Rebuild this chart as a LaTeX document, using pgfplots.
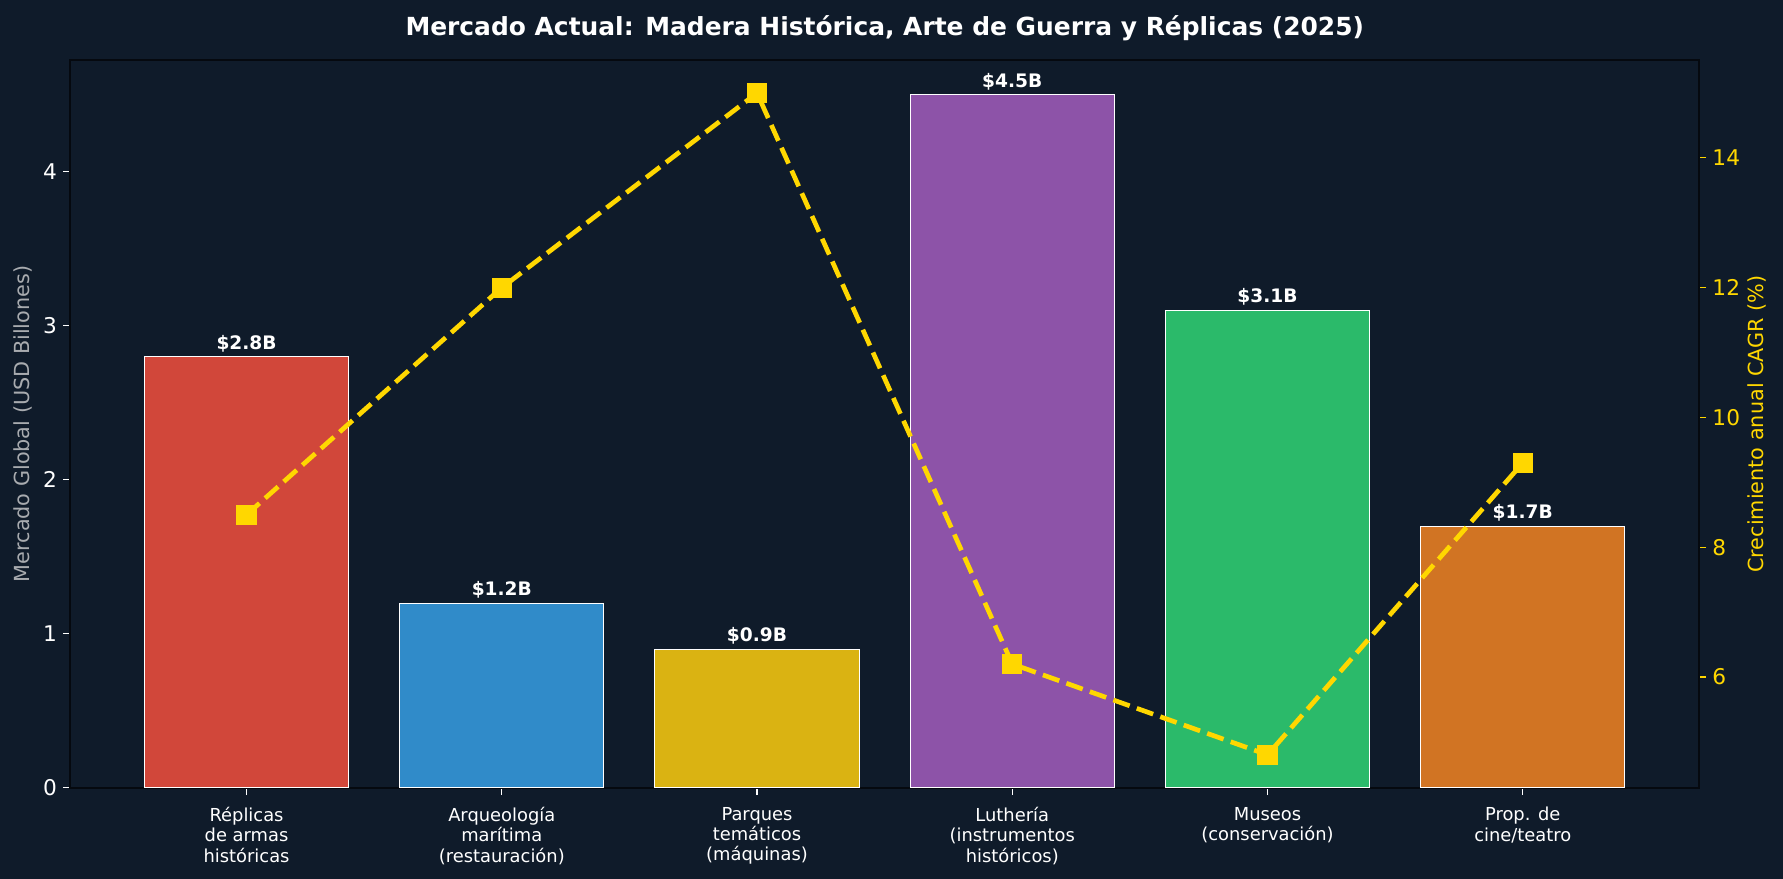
\documentclass[border=0pt]{standalone}
\usepackage{pgfplots}
\pgfplotsset{compat=1.18}
\usepackage{fontspec}
\setmainfont{DejaVu Sans}
\definecolor{bg}{HTML}{0F1B2A}
\definecolor{spine}{HTML}{05090F}
\definecolor{cRed}{HTML}{D1473A}
\definecolor{cBlue}{HTML}{308BC9}
\definecolor{cYellow}{HTML}{DAB312}
\definecolor{cPurple}{HTML}{8D53A8}
\definecolor{cGreen}{HTML}{2BBA6A}
\definecolor{cOrange}{HTML}{D17423}
\definecolor{gold}{HTML}{FFD700}
\definecolor{labgray}{HTML}{A8ABAF}
\pgfplotsset{
  /pgf/number format/assume math mode=true,
  common/.style={
    at={(39.0pt,50.4pt)}, anchor=south west,
    scale only axis, width=901.9pt, height=403.2pt,
    xmin=-0.69, xmax=5.69,
    tick align=outside,
    major tick length=4pt,
  },
  barstyle/.style={
    ybar, bar width=0.8, bar shift=0pt, fill=#1, draw=white, line width=0.5pt,
    nodes near coords={\$\pgfmathprintnumber[fixed,fixed zerofill,precision=1]{\pgfplotspointmeta}B},
    every node near coord/.append style={font=\bfseries\fontsize{10.3}{12}\selectfont, text=white, anchor=base, yshift=4.1pt},
  },
}
\begin{document}
\begin{tikzpicture}
\path[fill=bg] (0,0) rectangle (987.5pt,486.8pt);
\useasboundingbox (0,0) rectangle (987.5pt,486.8pt);
\node[font=\bfseries\fontsize{13.8}{16}\selectfont, text=white] at (490pt,471.2pt) {Mercado Actual: Madera Histórica, Arte de Guerra y Réplicas (2025)};
\begin{axis}[common,
  ymin=0, ymax=4.725,
  axis line style={spine, line width=1.1pt},
  xtick={0,1,2,3,4,5},
  xticklabels={{Réplicas\\de armas\\históricas},{Arqueología\\marítima\\(restauración)},{Parques\\temáticos\\(máquinas)},{Luthería\\(instrumentos\\históricos)},{Museos\\(conservación)},{Prop. de\\cine/teatro}},
  xticklabel style={align=center, font=\fontsize{9.9}{11.3}\selectfont, text=white, yshift=-3.1pt},
  ytick={0,1,2,3,4},
  yticklabel style={font=\fontsize{12}{14}\selectfont, text=white},
  xtick style={white, line width=0.6pt},
  ytick style={white, line width=0.6pt},
  ytick pos=left, xtick pos=bottom,
  ylabel={Mercado Global (USD Billones)},
  ylabel style={at={(axis description cs:-0.0292,0.5)}, anchor=center, font=\fontsize{11.5}{14}\selectfont, text=labgray},
]
\addplot[barstyle=cRed] coordinates {(0,2.8)};
\addplot[barstyle=cBlue] coordinates {(1,1.2)};
\addplot[barstyle=cYellow] coordinates {(2,0.9)};
\addplot[barstyle=cPurple] coordinates {(3,4.5)};
\addplot[barstyle=cGreen] coordinates {(4,3.1)};
\addplot[barstyle=cOrange] coordinates {(5,1.7)};
\end{axis}
\begin{axis}[common,
  ymin=4.29, ymax=15.51,
  axis x line=none,
  axis y line*=right,
  axis line style={spine, line width=1.1pt},
  ytick={6,8,10,12,14},
  yticklabel style={font=\fontsize{12}{14}\selectfont, text=gold},
  ytick style={gold, line width=0.6pt},
  ylabel={Crecimiento anual CAGR (\%)},
  ylabel style={at={(axis description cs:1.0355,0.5)}, anchor=center, font=\fontsize{11.5}{14}\selectfont, text=gold},
]
\addplot[gold, line width=2.6pt, dash pattern=on 9.6pt off 4.2pt, mark=square*, mark size=5.35pt, mark options={solid, fill=gold, draw=gold, line width=0pt}]
  coordinates {(0,8.5) (1,12.0) (2,15.0) (3,6.2) (4,4.8) (5,9.3)};
\end{axis}
\end{tikzpicture}
\end{document}
